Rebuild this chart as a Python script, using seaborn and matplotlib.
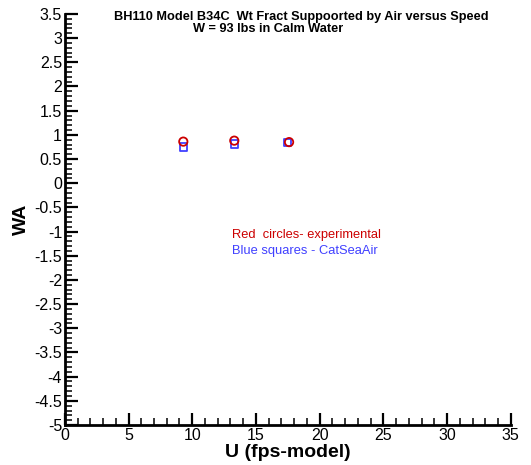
import matplotlib
matplotlib.use("Agg")
import matplotlib.pyplot as plt
import seaborn as sns
import pandas as pd
from matplotlib.ticker import MultipleLocator

# data
exp_speed = [9.3, 13.3, 17.6]
exp_wa = [0.86, 0.88, 0.85]
calc_speed = [9.3, 13.3, 17.5]
calc_wa = [0.75, 0.81, 0.84]

sns.set_style("ticks")
plt.rcParams['font.family'] = ['Liberation Sans', 'DejaVu Sans']
plt.rcParams['text.color'] = 'black'
plt.rcParams['axes.labelcolor'] = 'black'
plt.rcParams['xtick.color'] = 'black'
plt.rcParams['ytick.color'] = 'black'
plt.rcParams['axes.edgecolor'] = 'black'

fig = plt.figure(figsize=(5.31, 4.65), dpi=100)
ax = fig.add_axes([0.122, 0.086, 0.840, 0.884])

df_exp = pd.DataFrame({"U": exp_speed, "WA": exp_wa})
df_calc = pd.DataFrame({"U": calc_speed, "WA": calc_wa})

sns.scatterplot(data=df_calc, x="U", y="WA", marker="s", s=28,
                facecolors="none", edgecolor="#4040ff", linewidth=1.3, ax=ax, zorder=3)
sns.scatterplot(data=df_exp, x="U", y="WA", marker="o", s=36,
                facecolors="none", edgecolor="#cc0000", linewidth=1.3, ax=ax, zorder=4)

ax.set_xlim(0, 35)
ax.set_ylim(-5, 3.5)
ax.xaxis.set_major_locator(MultipleLocator(5))
ax.xaxis.set_minor_locator(MultipleLocator(1))
ax.yaxis.set_major_locator(MultipleLocator(0.5))
ax.yaxis.set_minor_locator(MultipleLocator(0.1))
ax.yaxis.set_major_formatter(plt.FuncFormatter(lambda v, p: f"{v:g}"))
ax.xaxis.set_major_formatter(plt.FuncFormatter(lambda v, p: f"{v:g}"))

for s in ["top", "right"]:
    ax.spines[s].set_visible(False)
for s in ["left", "bottom"]:
    ax.spines[s].set_linewidth(2)
    ax.spines[s].set_color("black")
ax.tick_params(axis="both", which="major", direction="in", length=9, width=1.6,
               labelsize=11.5, pad=2, colors="black")
ax.tick_params(axis="both", which="minor", direction="in", length=5, width=1.1,
               colors="black", left=True, bottom=True)

ax.set_xlabel("U (fps-model)", fontsize=14, fontweight="bold", labelpad=1)
ax.set_ylabel("WA", fontsize=14, fontweight="bold", labelpad=3)

fig.text(301/531, 1-17/465, "BH110 Model B34C  Wt Fract Suppoorted by Air versus Speed",
         ha="center", va="center", fontsize=9.2, fontweight="bold")
fig.text(268/531, 1-29/465, "W = 93 lbs in Calm Water",
         ha="center", va="center", fontsize=9.2, fontweight="bold")

fig.text(232/531, 1-235/465, "Red  circles- experimental", color="#cc0000",
         ha="left", va="center", fontsize=9.3)
fig.text(232/531, 1-251/465, "Blue squares - CatSeaAir", color="#4040ff",
         ha="left", va="center", fontsize=9.3)

fig.savefig("out.png", dpi=100)
